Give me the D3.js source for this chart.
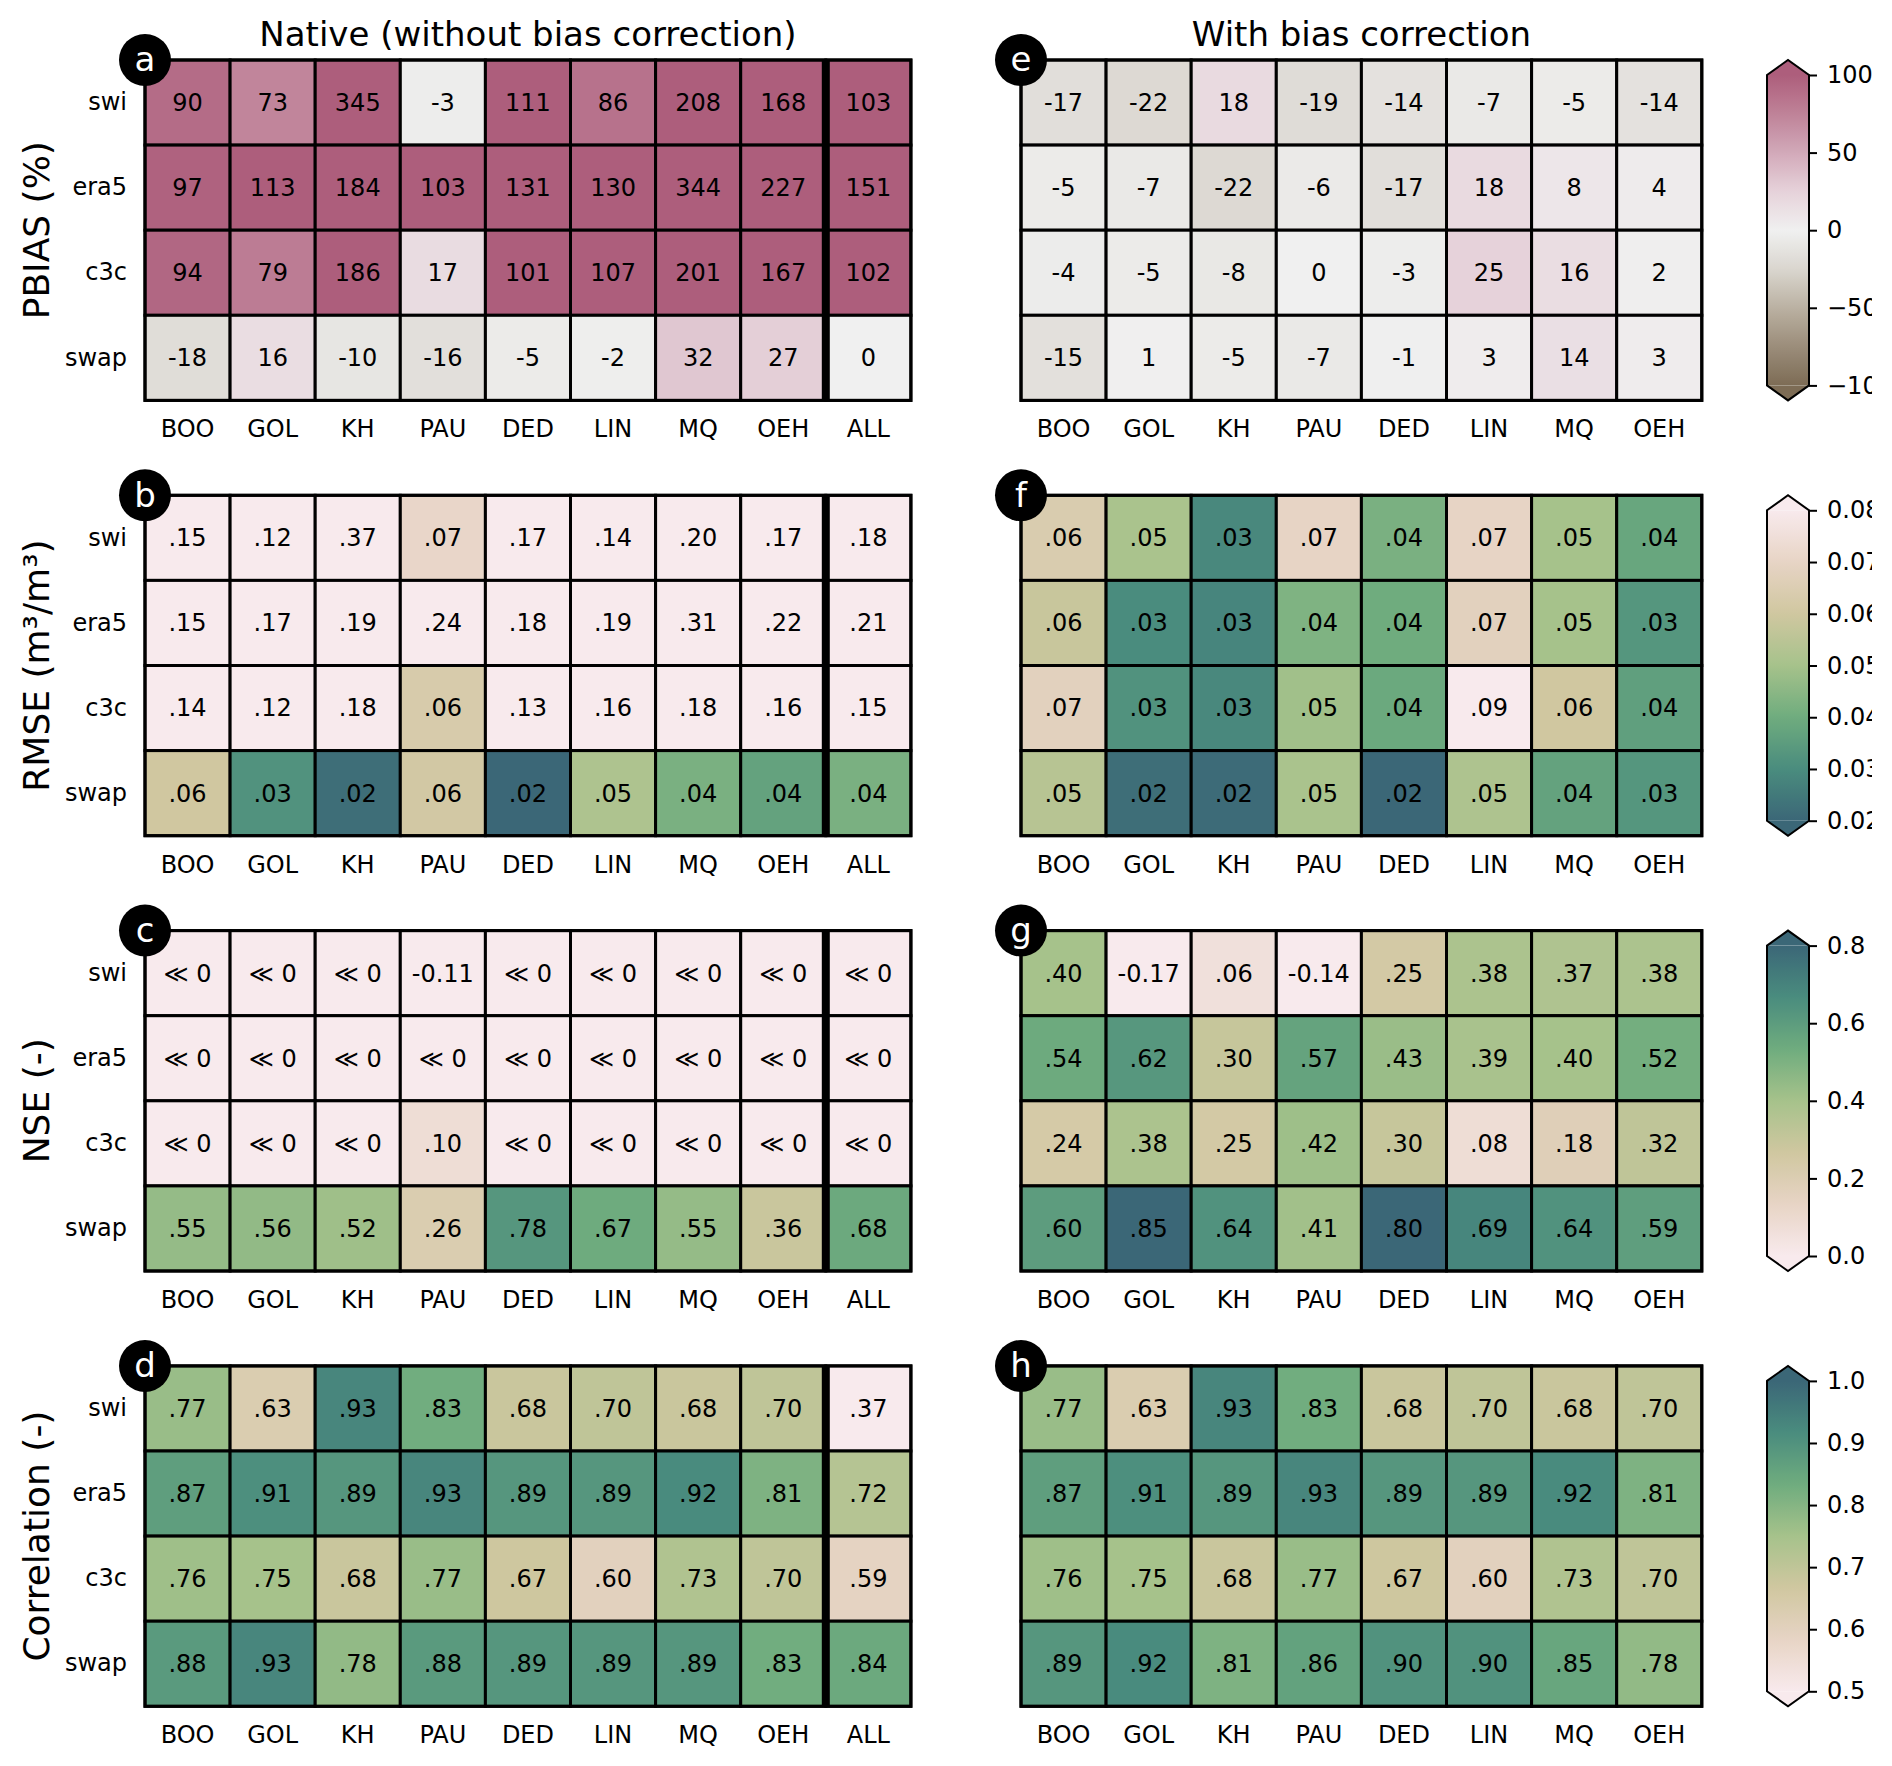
<!DOCTYPE html>
<html><head><meta charset="utf-8">
<script src="https://cdn.jsdelivr.net/npm/d3@7"></script>
<style>
body{margin:0;background:#fff}
text{font-family:"DejaVu Sans",sans-serif;fill:#000}
</style>
</head><body>
<svg id="chart" width="1892" height="1766"></svg>
<script>
// ---------------- DATA ----------------
const sites = ["BOO","GOL","KH","PAU","DED","LIN","MQ","OEH"];
const sitesAll = ["BOO","GOL","KH","PAU","DED","LIN","MQ","OEH","ALL"];
const products = ["swi","era5","c3c","swap"];
const MUCH_BELOW_ZERO = -Infinity; // shown as "≪ 0"

const pbiasNative = [
  [90, 73, 345, -3, 111, 86, 208, 168, 103],
  [97, 113, 184, 103, 131, 130, 344, 227, 151],
  [94, 79, 186, 17, 101, 107, 201, 167, 102],
  [-18, 16, -10, -16, -5, -2, 32, 27, 0]
];
const pbiasCorrected = [
  [-17, -22, 18, -19, -14, -7, -5, -14],
  [-5, -7, -22, -6, -17, 18, 8, 4],
  [-4, -5, -8, 0, -3, 25, 16, 2],
  [-15, 1, -5, -7, -1, 3, 14, 3]
];
const rmseNative = [
  [0.15, 0.12, 0.37, 0.071, 0.17, 0.14, 0.20, 0.17, 0.18],
  [0.15, 0.17, 0.19, 0.24, 0.18, 0.19, 0.31, 0.22, 0.21],
  [0.14, 0.12, 0.18, 0.063, 0.13, 0.16, 0.18, 0.16, 0.15],
  [0.060, 0.032, 0.022, 0.061, 0.020, 0.052, 0.042, 0.037, 0.042]
];
const rmseCorrected = [
  [0.064, 0.051, 0.029, 0.070, 0.042, 0.070, 0.050, 0.038],
  [0.058, 0.030, 0.028, 0.043, 0.040, 0.068, 0.050, 0.033],
  [0.068, 0.032, 0.029, 0.049, 0.039, 0.090, 0.060, 0.036],
  [0.054, 0.022, 0.021, 0.051, 0.020, 0.052, 0.037, 0.033]
];
const nseNative = [
  [MUCH_BELOW_ZERO, MUCH_BELOW_ZERO, MUCH_BELOW_ZERO, -0.11, MUCH_BELOW_ZERO, MUCH_BELOW_ZERO, MUCH_BELOW_ZERO, MUCH_BELOW_ZERO, MUCH_BELOW_ZERO],
  [MUCH_BELOW_ZERO, MUCH_BELOW_ZERO, MUCH_BELOW_ZERO, MUCH_BELOW_ZERO, MUCH_BELOW_ZERO, MUCH_BELOW_ZERO, MUCH_BELOW_ZERO, MUCH_BELOW_ZERO, MUCH_BELOW_ZERO],
  [MUCH_BELOW_ZERO, MUCH_BELOW_ZERO, MUCH_BELOW_ZERO, 0.10, MUCH_BELOW_ZERO, MUCH_BELOW_ZERO, MUCH_BELOW_ZERO, MUCH_BELOW_ZERO, MUCH_BELOW_ZERO],
  [0.55, 0.56, 0.52, 0.26, 0.78, 0.67, 0.55, 0.36, 0.68]
];
const nseCorrected = [
  [0.40, -0.17, 0.06, -0.14, 0.25, 0.38, 0.37, 0.38],
  [0.54, 0.62, 0.30, 0.57, 0.43, 0.39, 0.40, 0.52],
  [0.24, 0.38, 0.25, 0.42, 0.30, 0.08, 0.18, 0.32],
  [0.60, 0.85, 0.64, 0.41, 0.80, 0.69, 0.64, 0.59]
];
const corrNative = [
  [0.77, 0.63, 0.93, 0.83, 0.68, 0.70, 0.68, 0.70, 0.37],
  [0.87, 0.91, 0.89, 0.93, 0.89, 0.89, 0.92, 0.81, 0.72],
  [0.76, 0.75, 0.68, 0.77, 0.67, 0.60, 0.73, 0.70, 0.59],
  [0.88, 0.93, 0.78, 0.88, 0.89, 0.89, 0.89, 0.83, 0.84]
];
const corrCorrected = [
  [0.77, 0.63, 0.93, 0.83, 0.68, 0.70, 0.68, 0.70],
  [0.87, 0.91, 0.89, 0.93, 0.89, 0.89, 0.92, 0.81],
  [0.76, 0.75, 0.68, 0.77, 0.67, 0.60, 0.73, 0.70],
  [0.89, 0.92, 0.81, 0.86, 0.90, 0.90, 0.85, 0.78]
];

const columnTitles = ["Native (without bias correction)", "With bias correction"];
const rowTitles = ["PBIAS (%)", "RMSE (m³/m³)", "NSE (-)", "Correlation (-)"];
const panelLetters = [["a","e"],["b","f"],["c","g"],["d","h"]];
const cbTicksPbias = [100, 50, 0, -50, -100];
const cbTicksRmse = [0.08, 0.07, 0.06, 0.05, 0.04, 0.03, 0.02];
const cbTicksNse = [0.8, 0.6, 0.4, 0.2, 0.0];
const cbTicksCorr = [1.0, 0.9, 0.8, 0.7, 0.6, 0.5];

// ---------------- COLOUR MAPS ----------------
const divStops = [-100, -75, -50, -25, 0, 25, 50, 75, 100];
const divColors = ["#7d6c55","#9b8d7a","#bbb1a2","#dad6cf","#f0f0f0","#e6d2da","#d2a9b9","#bf8298","#ad5e7c"];
const pbiasScale = d3.scaleLinear().domain(divStops).range(divColors).interpolate(d3.interpolateRgb).clamp(true);

const seqStops = [0, 1/6, 2/6, 3/6, 4/6, 5/6, 1];
const seqColors = ["#f8eaed","#e7d4c5","#d0c7a0","#a6c28b","#6fac7e","#4a8c7e","#3b6777"];
const seqScale = d3.scaleLinear().domain(seqStops).range(seqColors).interpolate(d3.interpolateRgb).clamp(true);

// maps a value through a normalisation [from -> to] onto the sequential map (non-finite -> worst)
function seqFor(from, to){
  const n = d3.scaleLinear().domain([from, to]).range([0, 1]).clamp(true);
  return v => seqScale(Number.isFinite(v) ? n(v) : 0);
}
const rmseColor = seqFor(0.08, 0.02);
const nseColorNative = seqFor(0, 1.0);
const nseColor = seqFor(0, 0.8);
const corrColor = seqFor(0.5, 1.0);

const fmtInt = v => String(v);
const fmtDec = v => !Number.isFinite(v) ? "\u226A 0" : (v < 0 ? v.toFixed(2) : v.toFixed(2).replace(/^0/, ""));

const metrics = [
  {native: pbiasNative, corrected: pbiasCorrected, colorNative: v => pbiasScale(v), color: v => pbiasScale(v), fmt: fmtInt,
   cb: {lo: -100, hi: 100, ticks: cbTicksPbias, tfmt: d => d3.format("d")(d).replace("-", "\u2212")}},
  {native: rmseNative, corrected: rmseCorrected, colorNative: rmseColor, color: rmseColor, fmt: fmtDec,
   cb: {lo: 0.02, hi: 0.08, ticks: cbTicksRmse, tfmt: d3.format(".2f")}},
  {native: nseNative, corrected: nseCorrected, colorNative: nseColorNative, color: nseColor, fmt: fmtDec,
   cb: {lo: 0.0, hi: 0.8, ticks: cbTicksNse, tfmt: d3.format(".1f")}},
  {native: corrNative, corrected: corrCorrected, colorNative: corrColor, color: corrColor, fmt: fmtDec,
   cb: {lo: 0.5, hi: 1.0, ticks: cbTicksCorr, tfmt: d3.format(".1f")}}
];

// ---------------- LAYOUT ----------------
const svg = d3.select("#chart");
svg.append("rect").attr("width", 1892).attr("height", 1766).attr("fill", "#fff");
const defs = svg.append("defs");
defs.append("clipPath").attr("id", "cbclip").append("rect")
  .attr("x", 1700).attr("y", 0).attr("width", 172).attr("height", 1766);
const cell = 85.1;
const leftX = 145, rightX = 1021;
const panelTops = [60, 495.3, 930.6, 1365.9];
const cbX = 1767, cbW = 42, ext = 15;

// column titles
svg.append("text").attr("x", leftX + cell * 4.5).attr("y", 46).attr("text-anchor", "middle")
  .style("font-size", "34px").text(columnTitles[0]);
svg.append("text").attr("x", rightX + cell * 4).attr("y", 46).attr("text-anchor", "middle")
  .style("font-size", "34px").text(columnTitles[1]);

function drawPanel(x0, y0, cols, data, color, fmt, letter, isNative){
  const x = d3.scaleBand().domain(cols).range([x0, x0 + cell * cols.length]).padding(0);
  const y = d3.scaleBand().domain(products).range([y0, y0 + cell * products.length]).padding(0);
  const g = svg.append("g");
  const cells = [];
  data.forEach((row, i) => row.forEach((v, j) => cells.push({p: products[i], s: cols[j], v})));
  g.selectAll("rect.cell").data(cells).join("rect").attr("class", "cell")
    .attr("x", d => x(d.s)).attr("y", d => y(d.p))
    .attr("width", x.bandwidth()).attr("height", y.bandwidth())
    .attr("fill", d => color(d.v)).attr("stroke", "#000").attr("stroke-width", 3);
  g.selectAll("text.val").data(cells).join("text").attr("class", "val")
    .attr("x", d => x(d.s) + x.bandwidth() / 2).attr("y", d => y(d.p) + y.bandwidth() / 2)
    .attr("dy", "0.35em").attr("text-anchor", "middle").style("font-size", "24px")
    .text(d => fmt(d.v));
  if (isNative) {
    g.append("line").attr("x1", x("ALL")).attr("x2", x("ALL"))
      .attr("y1", y0).attr("y2", y0 + cell * products.length)
      .attr("stroke", "#000").attr("stroke-width", 8);
  }
  g.append("rect").attr("x", x0).attr("y", y0).attr("width", cell * cols.length)
    .attr("height", cell * products.length).attr("fill", "none").attr("stroke", "#000").attr("stroke-width", 3);
  const ax = g.append("g").attr("transform", `translate(0,${y0 + cell * products.length})`)
    .call(d3.axisBottom(x).tickSize(0).tickPadding(20));
  ax.select(".domain").remove();
  ax.selectAll("text").style("font-size", "24px").attr("font-family", "DejaVu Sans");
  if (isNative) {
    const ay = g.append("g").attr("transform", `translate(${x0},0)`)
      .call(d3.axisLeft(y).tickSize(0).tickPadding(18));
    ay.select(".domain").remove();
    ay.selectAll("text").style("font-size", "24px").attr("font-family", "DejaVu Sans");
  }
  g.append("circle").attr("cx", x0).attr("cy", y0).attr("r", 26).attr("fill", "#000");
  g.append("text").attr("x", x0).attr("y", y0).attr("dy", "0.33em").attr("text-anchor", "middle")
    .style("font-size", "34px").style("fill", "#fff").text(letter);
}

function drawColorbar(y0, m, idx){
  const top = y0, bot = y0 + cell * 4;
  const cb = m.cb;
  const sc = d3.scaleLinear().domain([cb.lo, cb.hi]).range([bot - ext, top + ext]);
  const gradId = "grad" + idx;
  const grad = defs.append("linearGradient").attr("id", gradId)
    .attr("x1", 0).attr("x2", 0).attr("y1", 1).attr("y2", 0);
  d3.range(0, 1.0001, 0.02).forEach(t => {
    grad.append("stop").attr("offset", t).attr("stop-color", m.color(cb.lo + t * (cb.hi - cb.lo)));
  });
  const g = svg.append("g").attr("clip-path", "url(#cbclip)");
  const xc = cbX + cbW / 2;
  g.append("rect").attr("x", cbX).attr("y", top + ext).attr("width", cbW).attr("height", bot - top - 2 * ext)
    .attr("fill", `url(#${gradId})`);
  g.append("path").attr("d", `M${cbX},${top + ext}L${xc},${top}L${cbX + cbW},${top + ext}Z`).attr("fill", m.color(cb.hi));
  g.append("path").attr("d", `M${cbX},${bot - ext}L${xc},${bot}L${cbX + cbW},${bot - ext}Z`).attr("fill", m.color(cb.lo));
  g.append("path").attr("d", `M${cbX},${top + ext}L${xc},${top}L${cbX + cbW},${top + ext}L${cbX + cbW},${bot - ext}L${xc},${bot}L${cbX},${bot - ext}Z`)
    .attr("fill", "none").attr("stroke", "#000").attr("stroke-width", 2);
  const a = g.append("g").attr("transform", `translate(${cbX + cbW},0)`)
    .call(d3.axisRight(sc).tickValues(cb.ticks).tickFormat(cb.tfmt).tickSize(8).tickPadding(10));
  a.select(".domain").remove();
  a.selectAll("line").attr("stroke", "#000").attr("stroke-width", 2);
  a.selectAll("text").style("font-size", "24px").attr("font-family", "DejaVu Sans");
}

metrics.forEach((m, i) => {
  const y0 = panelTops[i];
  drawPanel(leftX, y0, sitesAll, m.native, m.colorNative, m.fmt, panelLetters[i][0], true);
  drawPanel(rightX, y0, sites, m.corrected, m.color, m.fmt, panelLetters[i][1], false);
  drawColorbar(y0, m, i);
  svg.append("text").attr("transform", `translate(36,${y0 + cell * 2}) rotate(-90)`)
    .attr("dy", "0.35em").attr("text-anchor", "middle").style("font-size", "36px").text(rowTitles[i]);
});
</script>
</body></html>
